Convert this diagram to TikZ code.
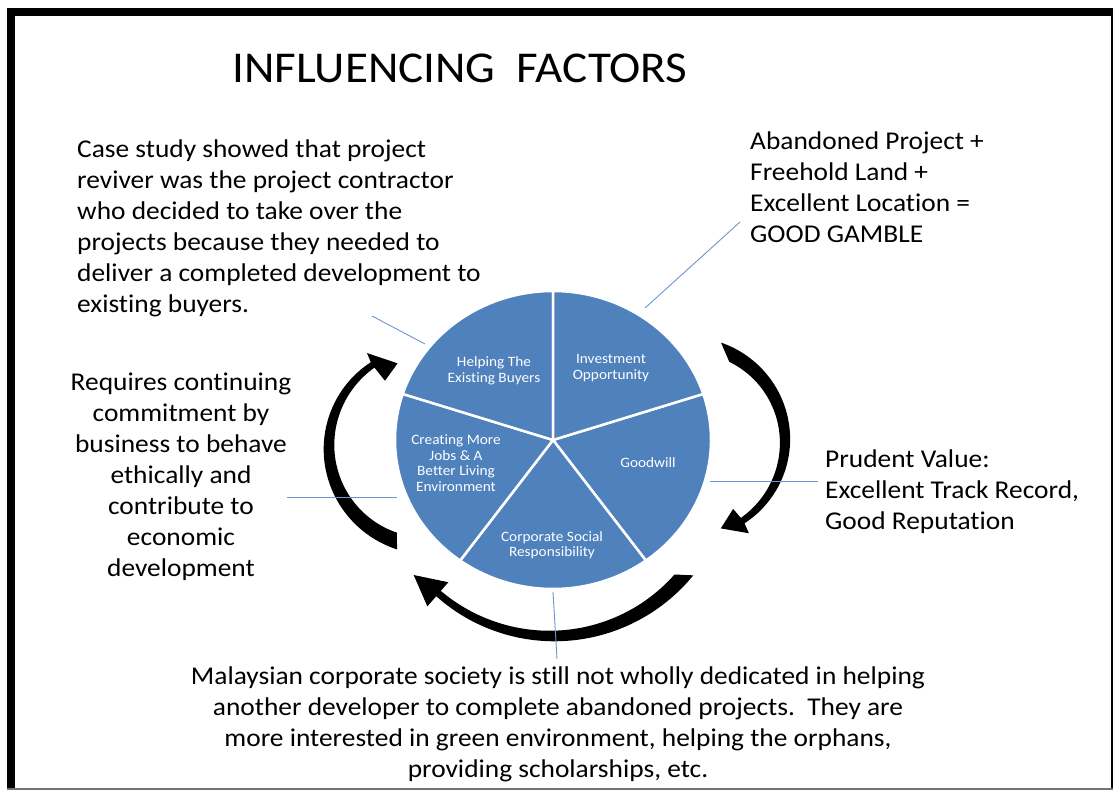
\documentclass[tikz,border=0pt]{standalone}
\usepackage{fontspec}
\setmainfont{Carlito}[FakeStretch=1.07, Ligatures=NoCommon]
\definecolor{pieblue}{RGB}{79,129,189}
\definecolor{leaderblue}{RGB}{110,150,205}
\begin{document}
\begin{tikzpicture}[x=1pt,y=-1pt,
  declare function={taper(\t,\a,\b,\wa,\wb)=\wa+(\wb-\wa)*(\t-\a)/(\b-\a);},
  slice/.style={fill=pieblue, draw=white, line width=2.5pt, line join=round},
  slicelabel/.style={text=white, font=\fontsize{14.3}{15.6}\selectfont, align=center, inner sep=0pt},
  note/.style={font=\fontsize{25.6}{31}\selectfont, inner sep=0pt, execute at begin node=\strut},
  leader/.style={draw=leaderblue, line width=0.9pt},
  curvearrow/.style={fill=black}
]
% page and frame
\fill[white] (0,0) rectangle (1113,791);
\useasboundingbox (0,0) rectangle (1113,791);
\fill[black] (7,8) rectangle (1112.5,16);
\fill[black] (7,8) rectangle (15,789);
\fill[black] (1110.5,8) rectangle (1112.5,789);
\fill[black!55] (7,787.5) rectangle (1112.5,789.5);

% title
\node[font=\fontsize{44}{53}\selectfont, anchor=base west, inner sep=0pt] (title) at (232,83) {INFLUENCING\ \ FACTORS};

% pie of five factors
\coordinate (c) at (553,440);
\path[slice] (c) -- ++(-18:158 and 149) arc[start angle=-18,end angle=54,x radius=158,y radius=149] -- cycle;
\path[slice] (c) -- ++(54:158 and 149) arc[start angle=54,end angle=126,x radius=158,y radius=149] -- cycle;
\path[slice] (c) -- ++(126:158 and 149) arc[start angle=126,end angle=198,x radius=158,y radius=149] -- cycle;
\path[slice] (c) -- ++(198:158 and 149) arc[start angle=198,end angle=270,x radius=158,y radius=149] -- cycle;
\begin{scope}[shift={(2,-2)}]
\path[slice] (c) -- ++(-90:158 and 149) arc[start angle=-90,end angle=-18,x radius=158,y radius=149] -- cycle;
\end{scope}

\node[slicelabel] (helping) at (494,371) {Helping The\\Existing Buyers};
\node[slicelabel] (invest) at (611,368) {Investment\\Opportunity};
\node[slicelabel] (goodwill) at (648,463) {Goodwill};
\node[slicelabel] (csr) at (552,545) {Corporate Social\\Responsibility};
\node[slicelabel] (jobs) at (456,463) {Creating More\\Jobs \& A\\Better Living\\Environment};

% curved arrows round the pie
\fill[curvearrow]
  plot[domain=-72:56, samples=60, variable=\t] ({689+(96+taper(\t,-72,56,15,6.5)/2)*cos(\t)}, {441+(96+taper(\t,-72,56,15,6.5)/2)*sin(\t)})
  -- ({689+110*cos(57)}, {441+110*sin(57)})
  -- ({689+93*cos(70)}, {441+93*sin(70)})
  -- ({689+81*cos(57)}, {441+81*sin(57)})
  -- plot[domain=56:-63, samples=60, variable=\t] ({689+(96-taper(\t,-72,56,15,6.5)/2)*cos(\t)}, {441+(96-taper(\t,-72,56,15,6.5)/2)*sin(\t)})
  -- cycle;
\fill[curvearrow]
  plot[domain=106.8:236, samples=60, variable=\t] ({428+(99+taper(\t,106.8,236,16,6.5)/2)*cos(\t)}, {447+(99+taper(\t,106.8,236,16,6.5)/2)*sin(\t)})
  -- ({428+112*cos(237)}, {447+112*sin(237)})
  -- ({428+89*cos(250)}, {447+89*sin(250)})
  -- ({428+79*cos(237)}, {447+79*sin(237)})
  -- plot[domain=236:110, samples=60, variable=\t] ({428+(99-taper(\t,106.8,236,16,6.5)/2)*cos(\t)}, {447+(99-taper(\t,106.8,236,16,6.5)/2)*sin(\t)})
  -- cycle;
\fill[curvearrow]
  plot[domain=38.5:131, samples=80, variable=\t] ({552+(173+taper(\t,38.5,131,15,7)/2)*cos(\t)}, {463+(173+taper(\t,38.5,131,15,7)/2)*sin(\t)})
  -- ({552+190*cos(131)}, {463+190*sin(131)})
  -- ({552+178*cos(141)}, {463+178*sin(141)})
  -- ({552+158*cos(131)}, {463+158*sin(131)})
  -- plot[domain=131:42.3, samples=80, variable=\t] ({552+(173-taper(\t,38.5,131,15,7)/2)*cos(\t)}, {463+(173-taper(\t,38.5,131,15,7)/2)*sin(\t)})
  -- cycle;

% explanatory notes
\node[note, anchor=north west, align=left] (case) at (77,139.3) {Case study showed that project\\reviver was the project contractor\\who decided to take over the\\projects because they needed to\\deliver a completed development to\\existing buyers.};
\node[note, anchor=north west, align=left] (gamble) at (750,131.3) {Abandoned Project +\\Freehold Land +\\Excellent Location =\\GOOD GAMBLE};
\node[note, anchor=north, align=center] (ethics) at (181,372.3) {Requires continuing\\commitment by\\business to behave\\ethically and\\contribute to\\economic\\development};
\node[note, anchor=north west, align=left] (prudent) at (825,449.3) {Prudent Value:\\Excellent Track Record,\\Good Reputation};
\node[note, anchor=north, align=center] (society) at (558,666.3) {Malaysian corporate society is still not wholly dedicated in helping\\another developer to complete abandoned projects.\ \ They are\\more interested in green environment, helping the orphans,\\providing scholarships, etc.};

% leader lines from notes to the pie
\coordinate (caseEnd) at (372,316);
\coordinate (helpEdge) at (425,344);
\coordinate (gambleEnd) at (740,222);
\coordinate (investEdge) at (645,308);
\coordinate (ethicsEnd) at (287,497);
\coordinate (jobsEdge) at (397,497);
\coordinate (prudentEnd) at (818,481);
\coordinate (goodEdge) at (710,481);
\coordinate (csrEdge) at (553,592);
\coordinate (societyEnd) at (557,659);
\draw[leader] (caseEnd) -- (helpEdge);
\draw[leader] (gambleEnd) -- (investEdge);
\draw[leader] (ethicsEnd) -- (jobsEdge);
\draw[leader] (prudentEnd) -- (goodEdge);
\draw[leader] (csrEdge) -- (societyEnd);
\end{tikzpicture}
\end{document}
